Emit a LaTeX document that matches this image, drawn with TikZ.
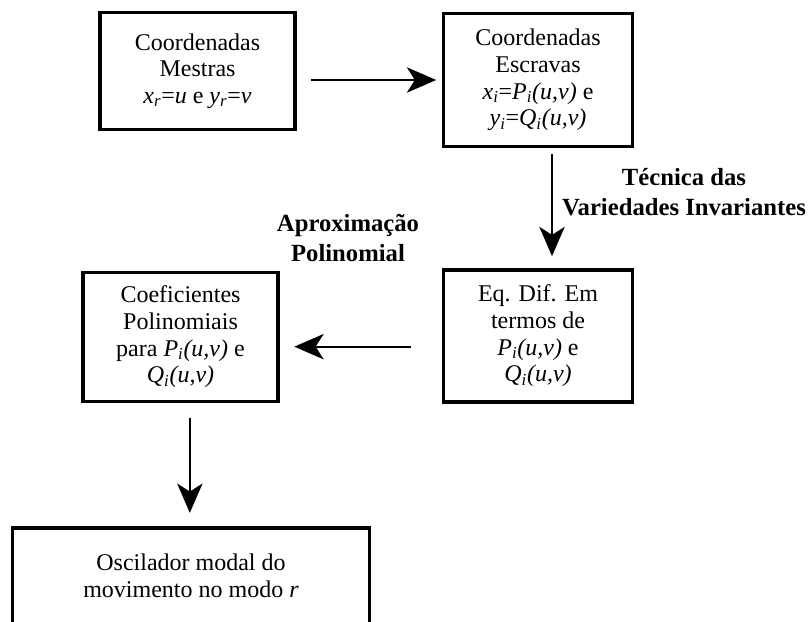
\documentclass[tikz,border=0pt]{standalone}
\usepackage{fontspec}
\setmainfont{Liberation Serif}
\usetikzlibrary{arrows.meta}

% italic letter with italic index
\newcommand{\vidx}[2]{\textit{#1}\textsubscript{\textit{#2}}}

\begin{document}
\begin{tikzpicture}
[
	x	= 0.75pt,	% one unit is one pixel of the sketch
	y	= -0.75pt,	% and y grows downwards
	%
	%
	% ----------- options for the boxes --------------
	caixa/.style =
	{
		draw,
		line width		= 2.7pt,
		align			= center,
		inner sep		= 2pt,
		font			= \fontsize{18}{20}\selectfont
	},
	%
	rotulo/.style =
	{
		align			= center,
		font			= \fontsize{18.5}{22}\selectfont\bfseries
	},
	%
	seta/.style =
	{
		draw,
		line width		= 1.5pt,
		-{Stealth[length=22pt, width=19pt, inset=6pt]}
	}
]

\clip (0,0) rectangle (810,621);

% actual diagram
\node [caixa, minimum width = 146pt, minimum height = 88pt]
	(mestras) at (197.5,71)
	{Coordenadas\\Mestras\\\vidx{x}{r}=\textit{u} e \vidx{y}{r}=\textit{v}};

\node [caixa, minimum width = 142pt, minimum height = 100pt]
	(escravas) at (538,80)
	{Coordenadas\\Escravas\\\vidx{x}{i}=\vidx{P}{i}\textit{(u,v)} e\\\vidx{y}{i}=\vidx{Q}{i}\textit{(u,v)}};

\node [caixa, minimum width = 142pt, minimum height = 99pt]
	(eqdif) at (538,336)
	{Eq. Dif. Em\\termos de\\\vidx{P}{i}\textit{(u,v)} e\\\vidx{Q}{i}\textit{(u,v)}};

\node [caixa, minimum width = 146pt, minimum height = 97pt]
	(coef) at (180.5,337)
	{Coeficientes\\Polinomiais\\para \vidx{P}{i}\textit{(u,v)} e\\\vidx{Q}{i}\textit{(u,v)}};

\node [caixa, minimum width = 268pt, minimum height = 72pt]
	(oscilador) at (191,576)
	{Oscilador modal do\\movimento no modo \textit{r}};

\node [rotulo] (tecnica) at (684,192) {Técnica das\\Variedades Invariantes};
\node [rotulo] (aprox) at (348,238) {Aproximação\\Polinomial};



% connectors
\draw [seta, shorten <= 11pt, shorten >= 4pt]
	(mestras.east |- escravas.west) -- (escravas.west);

\draw [seta, shorten <= 4.5pt, shorten >= 9pt]
	([xshift=10.5pt]escravas.south) -- ([xshift=10.5pt]escravas.south |- eqdif.north);

\draw [seta, shorten <= 23pt, shorten >= 11pt]
	([yshift=-8pt]eqdif.west) -- ([yshift=-8pt]eqdif.west -| coef.east);

\draw [seta, shorten <= 11pt, shorten >= 10pt]
	([xshift=7pt]coef.south) -- ([xshift=7pt]coef.south |- oscilador.north);

\end{tikzpicture}
\end{document}
